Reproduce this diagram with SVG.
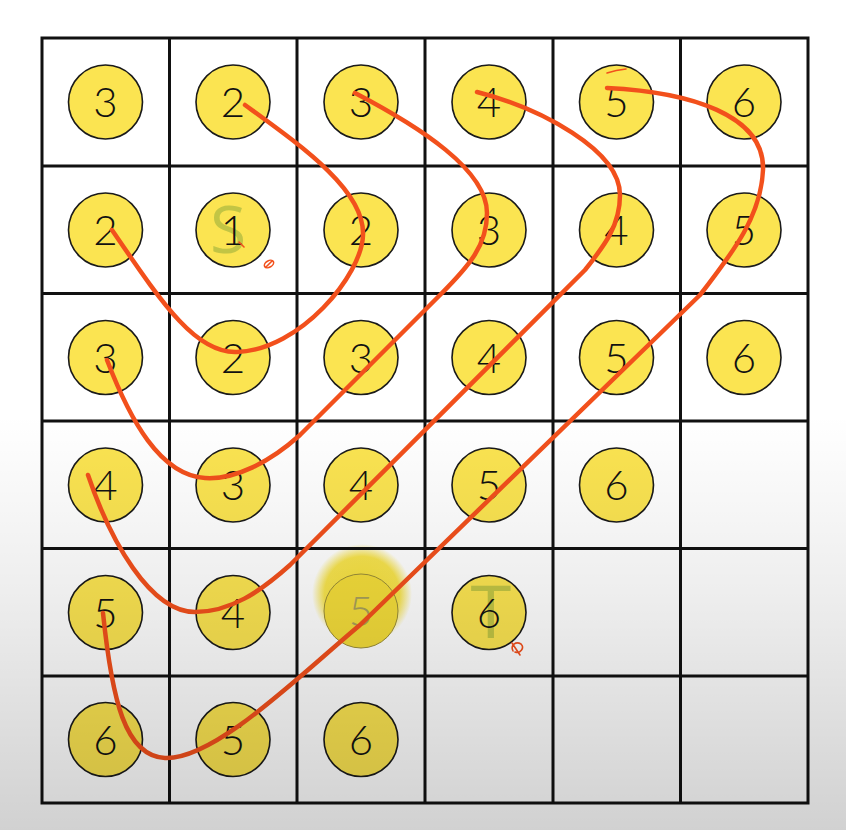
<svg xmlns="http://www.w3.org/2000/svg" width="846" height="830" viewBox="0 0 846 830">
  <defs>
    <linearGradient id="shade" x1="0" y1="0" x2="0" y2="1">
      <stop offset="0" stop-color="#000" stop-opacity="0"/>
      <stop offset="0.5" stop-color="#000" stop-opacity="0"/>
      <stop offset="0.72" stop-color="#000" stop-opacity="0.07"/>
      <stop offset="1" stop-color="#000" stop-opacity="0.18"/>
    </linearGradient>
    <radialGradient id="glow" cx="0.5" cy="0.5" r="0.5">
      <stop offset="0" stop-color="#f5de2e" stop-opacity="0.95"/>
      <stop offset="0.75" stop-color="#f5de2e" stop-opacity="0.85"/>
      <stop offset="1" stop-color="#f5de2e" stop-opacity="0"/>
    </radialGradient>
    <style>
      .cell { fill: #ffffff; }
      .grid { stroke: #111; stroke-width: 3; fill: none; }
      .node circle { fill: #fbe451; stroke: #1a1a1a; stroke-width: 1.6; }
      .node text { font-family: Lato, "Open Sans", "DejaVu Sans", sans-serif; font-weight: 300; font-size: 42px; fill: #111; text-anchor: middle; }
      .node text.green { font-family: "Open Sans", "DejaVu Sans", sans-serif; font-weight: 400; fill: #a3b43e; fill-opacity: 0.65; }
      .path { fill: none; stroke: #f2501c; stroke-width: 4.5; stroke-linecap: round; stroke-linejoin: round; }
      .mark { fill: none; stroke: #f2501c; stroke-width: 1.6; stroke-linecap: round; }
    </style>
  </defs>

  <rect x="0" y="0" width="846" height="830" fill="#ffffff"/>
  <rect x="42" y="38" width="766" height="765" class="cell"/>

  <!-- glow behind faded node -->
  <circle cx="362" cy="594" r="50" fill="url(#glow)"/>

  <!-- nodes -->
  <g id="n00" class="node"><circle cx="105.5" cy="102" r="37"/><text x="105.5" y="117">3</text></g>
  <g id="n01" class="node"><circle cx="233" cy="102" r="37"/><text x="233" y="117">2</text></g>
  <g id="n02" class="node"><circle cx="361" cy="102" r="37"/><text x="361" y="117">3</text></g>
  <g id="n03" class="node"><circle cx="489" cy="102" r="37"/><text x="489" y="117">4</text></g>
  <g id="n04" class="node"><circle cx="616.5" cy="102" r="37"/><text x="616.5" y="117">5</text></g>
  <g id="n05" class="node"><circle cx="744" cy="102" r="37"/><text x="744" y="117">6</text></g>

  <g id="n10" class="node"><circle cx="105.5" cy="230" r="37"/><text x="105.5" y="245">2</text></g>
  <g id="n11" class="node"><circle cx="233" cy="230" r="37"/><text class="green" x="228" y="253" style="font-size:66px">S</text><text x="233" y="245">1</text></g>
  <g id="n12" class="node"><circle cx="361" cy="230" r="37"/><text x="361" y="245">2</text></g>
  <g id="n13" class="node"><circle cx="489" cy="230" r="37"/><text x="489" y="245">3</text></g>
  <g id="n14" class="node"><circle cx="616.5" cy="230" r="37"/><text x="616.5" y="245">4</text></g>
  <g id="n15" class="node"><circle cx="744" cy="230" r="37"/><text x="744" y="245">5</text></g>

  <g id="n20" class="node"><circle cx="105.5" cy="357.5" r="37"/><text x="105.5" y="372.5">3</text></g>
  <g id="n21" class="node"><circle cx="233" cy="357.5" r="37"/><text x="233" y="372.5">2</text></g>
  <g id="n22" class="node"><circle cx="361" cy="357.5" r="37"/><text x="361" y="372.5">3</text></g>
  <g id="n23" class="node"><circle cx="489" cy="357.5" r="37"/><text x="489" y="372.5">4</text></g>
  <g id="n24" class="node"><circle cx="616.5" cy="357.5" r="37"/><text x="616.5" y="372.5">5</text></g>
  <g id="n25" class="node"><circle cx="744" cy="357.5" r="37"/><text x="744" y="372.5">6</text></g>

  <g id="n30" class="node"><circle cx="105.5" cy="485" r="37"/><text x="105.5" y="500">4</text></g>
  <g id="n31" class="node"><circle cx="233" cy="485" r="37"/><text x="233" y="500">3</text></g>
  <g id="n32" class="node"><circle cx="361" cy="485" r="37"/><text x="361" y="500">4</text></g>
  <g id="n33" class="node"><circle cx="489" cy="485" r="37"/><text x="489" y="500">5</text></g>
  <g id="n34" class="node"><circle cx="616.5" cy="485" r="37"/><text x="616.5" y="500">6</text></g>

  <g id="n40" class="node"><circle cx="105.5" cy="612.5" r="37"/><text x="105.5" y="627.5">5</text></g>
  <g id="n41" class="node"><circle cx="233" cy="612.5" r="37"/><text x="233" y="627.5">4</text></g>
  <g id="n42" class="node"><circle cx="361" cy="611" r="37" style="fill:#f3dc3a;stroke:#9a8d38;stroke-width:1"/><text x="361" y="626" style="fill:#a8a05a">5</text></g>
  <g id="n43" class="node"><circle cx="489" cy="612.5" r="37"/><text class="green" x="491" y="638" style="font-size:74px">T</text><text x="489" y="627.5">6</text></g>

  <g id="n50" class="node"><circle cx="105.5" cy="739.5" r="37"/><text x="105.5" y="754.5">6</text></g>
  <g id="n51" class="node"><circle cx="233" cy="739.5" r="37"/><text x="233" y="754.5">5</text></g>
  <g id="n52" class="node"><circle cx="361" cy="739.5" r="37"/><text x="361" y="754.5">6</text></g>

  <!-- grid -->
  <g id="grid" class="grid">
    <rect x="42" y="38" width="766" height="765"/>
    <path d="M169.5 38V803M297 38V803M425 38V803M553 38V803M680.5 38V803M42 166H808M42 293.5H808M42 421H808M42 548.5H808M42 676H808"/>
  </g>

  <!-- connectors -->
  <g id="connectors">
    <path class="path" d="M245,105 C300,145 365,190 363,235 C362,275 300,350 237,352 C195,354 160,300 112,230"/>
    <path class="path" d="M355,93 C420,127 487,170 487,213 C487,245 470,265 440,295 L300,435 C270,462 235,480 205,478 C160,475 130,420 107,360"/>
    <path class="path" d="M477,92 C540,108 620,150 620,195 C620,225 605,245 585,270 L290,565 C260,592 230,612 195,612 C150,612 110,540 88,475"/>
    <path class="path" d="M607,88 C690,92 765,115 763,170 C761,215 735,250 700,295 L360,625 C300,675 215,760 165,758 C125,756 112,700 103,613"/>
  </g>

  <!-- small hand marks -->
  <g id="marks" class="mark">
    <path d="M607,73 Q616,70 626,69"/>
    <path d="M239,242 L244,247"/>
    <ellipse cx="269" cy="264" rx="5" ry="3.2" transform="rotate(-30 269 264)"/>
    <path d="M266,267 L272,261"/>
    <path d="M513,651 C510,645 516,641 521,644 C525,648 520,654 515,652 M512,643 L520,655"/>
  </g>

  <!-- lighting gradient -->
  <rect x="0" y="0" width="846" height="830" fill="url(#shade)" pointer-events="none"/>
</svg>
